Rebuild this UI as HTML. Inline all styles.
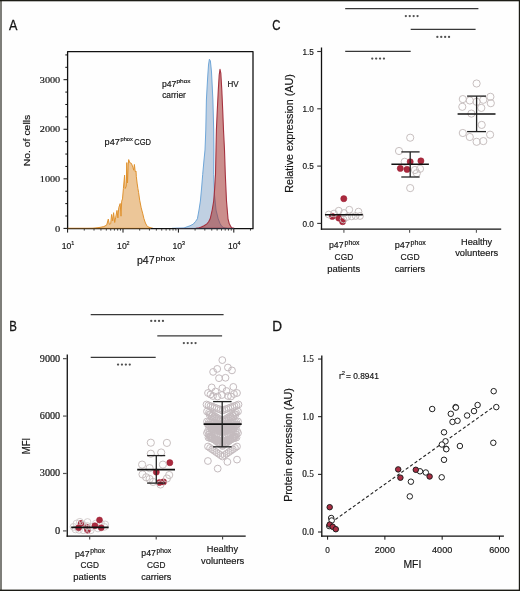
<!DOCTYPE html>
<html><head><meta charset="utf-8"><style>
html,body{margin:0;padding:0;background:#fff;}
svg{display:block;will-change:transform;}
</style></head><body>
<svg width="520" height="591" viewBox="0 0 520 591">
<rect x="0" y="0" width="520" height="591" fill="#fefefe"/>
<text x="9.00" y="29.70" font-size="14.5" font-family='"Liberation Sans", sans-serif' fill="#161616" stroke="#161616" stroke-width="0.3" textLength="8.4" lengthAdjust="spacingAndGlyphs" >A</text>
<line x1="63.50" y1="228.40" x2="67.60" y2="228.40" stroke="#111" stroke-width="1.0" />
<line x1="65.30" y1="216.01" x2="67.60" y2="216.01" stroke="#111" stroke-width="1.0" />
<line x1="65.30" y1="203.62" x2="67.60" y2="203.62" stroke="#111" stroke-width="1.0" />
<line x1="65.30" y1="191.22" x2="67.60" y2="191.22" stroke="#111" stroke-width="1.0" />
<line x1="63.50" y1="178.83" x2="67.60" y2="178.83" stroke="#111" stroke-width="1.0" />
<line x1="65.30" y1="166.44" x2="67.60" y2="166.44" stroke="#111" stroke-width="1.0" />
<line x1="65.30" y1="154.05" x2="67.60" y2="154.05" stroke="#111" stroke-width="1.0" />
<line x1="65.30" y1="141.65" x2="67.60" y2="141.65" stroke="#111" stroke-width="1.0" />
<line x1="63.50" y1="129.26" x2="67.60" y2="129.26" stroke="#111" stroke-width="1.0" />
<line x1="65.30" y1="116.87" x2="67.60" y2="116.87" stroke="#111" stroke-width="1.0" />
<line x1="65.30" y1="104.47" x2="67.60" y2="104.47" stroke="#111" stroke-width="1.0" />
<line x1="65.30" y1="92.08" x2="67.60" y2="92.08" stroke="#111" stroke-width="1.0" />
<line x1="63.50" y1="79.69" x2="67.60" y2="79.69" stroke="#111" stroke-width="1.0" />
<line x1="65.30" y1="67.30" x2="67.60" y2="67.30" stroke="#111" stroke-width="1.0" />
<line x1="65.30" y1="54.91" x2="67.60" y2="54.91" stroke="#111" stroke-width="1.0" />
<text x="60.20" y="231.60" font-size="9.2" font-family='"Liberation Serif", serif' fill="#161616" stroke="#161616" stroke-width="0.18" text-anchor="end" textLength="5.2" lengthAdjust="spacingAndGlyphs" >0</text>
<text x="60.20" y="182.03" font-size="9.2" font-family='"Liberation Serif", serif' fill="#161616" stroke="#161616" stroke-width="0.18" text-anchor="end" textLength="20.4" lengthAdjust="spacingAndGlyphs" >1000</text>
<text x="60.20" y="132.46" font-size="9.2" font-family='"Liberation Serif", serif' fill="#161616" stroke="#161616" stroke-width="0.18" text-anchor="end" textLength="20.4" lengthAdjust="spacingAndGlyphs" >2000</text>
<text x="60.20" y="82.89" font-size="9.2" font-family='"Liberation Serif", serif' fill="#161616" stroke="#161616" stroke-width="0.18" text-anchor="end" textLength="20.4" lengthAdjust="spacingAndGlyphs" >3000</text>
<line x1="67.60" y1="228.70" x2="67.60" y2="232.60" stroke="#111" stroke-width="1.0" />
<line x1="84.28" y1="228.70" x2="84.28" y2="230.60" stroke="#333" stroke-width="0.9" />
<line x1="94.03" y1="228.70" x2="94.03" y2="230.60" stroke="#333" stroke-width="0.9" />
<line x1="100.95" y1="228.70" x2="100.95" y2="230.60" stroke="#333" stroke-width="0.9" />
<line x1="106.32" y1="228.70" x2="106.32" y2="230.60" stroke="#333" stroke-width="0.9" />
<line x1="110.71" y1="228.70" x2="110.71" y2="230.60" stroke="#333" stroke-width="0.9" />
<line x1="114.42" y1="228.70" x2="114.42" y2="230.60" stroke="#333" stroke-width="0.9" />
<line x1="117.63" y1="228.70" x2="117.63" y2="230.60" stroke="#333" stroke-width="0.9" />
<line x1="120.47" y1="228.70" x2="120.47" y2="230.60" stroke="#333" stroke-width="0.9" />
<line x1="123.00" y1="228.70" x2="123.00" y2="232.60" stroke="#111" stroke-width="1.0" />
<line x1="139.68" y1="228.70" x2="139.68" y2="230.60" stroke="#333" stroke-width="0.9" />
<line x1="149.43" y1="228.70" x2="149.43" y2="230.60" stroke="#333" stroke-width="0.9" />
<line x1="156.35" y1="228.70" x2="156.35" y2="230.60" stroke="#333" stroke-width="0.9" />
<line x1="161.72" y1="228.70" x2="161.72" y2="230.60" stroke="#333" stroke-width="0.9" />
<line x1="166.11" y1="228.70" x2="166.11" y2="230.60" stroke="#333" stroke-width="0.9" />
<line x1="169.82" y1="228.70" x2="169.82" y2="230.60" stroke="#333" stroke-width="0.9" />
<line x1="173.03" y1="228.70" x2="173.03" y2="230.60" stroke="#333" stroke-width="0.9" />
<line x1="175.87" y1="228.70" x2="175.87" y2="230.60" stroke="#333" stroke-width="0.9" />
<line x1="178.40" y1="228.70" x2="178.40" y2="232.60" stroke="#111" stroke-width="1.0" />
<line x1="195.08" y1="228.70" x2="195.08" y2="230.60" stroke="#333" stroke-width="0.9" />
<line x1="204.83" y1="228.70" x2="204.83" y2="230.60" stroke="#333" stroke-width="0.9" />
<line x1="211.75" y1="228.70" x2="211.75" y2="230.60" stroke="#333" stroke-width="0.9" />
<line x1="217.12" y1="228.70" x2="217.12" y2="230.60" stroke="#333" stroke-width="0.9" />
<line x1="221.51" y1="228.70" x2="221.51" y2="230.60" stroke="#333" stroke-width="0.9" />
<line x1="225.22" y1="228.70" x2="225.22" y2="230.60" stroke="#333" stroke-width="0.9" />
<line x1="228.43" y1="228.70" x2="228.43" y2="230.60" stroke="#333" stroke-width="0.9" />
<line x1="231.27" y1="228.70" x2="231.27" y2="230.60" stroke="#333" stroke-width="0.9" />
<line x1="233.80" y1="228.70" x2="233.80" y2="232.60" stroke="#111" stroke-width="1.0" />
<line x1="250.48" y1="228.70" x2="250.48" y2="230.60" stroke="#333" stroke-width="0.9" />
<text x="61.70" y="248.70" font-size="9.2" font-family='"Liberation Sans", sans-serif' fill="#161616" stroke="#161616" stroke-width="0.18" textLength="9.6" lengthAdjust="spacingAndGlyphs" >10</text>
<text x="71.20" y="245.20" font-size="6.0" font-family='"Liberation Sans", sans-serif' fill="#161616" stroke="#161616" stroke-width="0.18" textLength="3.0" lengthAdjust="spacingAndGlyphs" >1</text>
<text x="117.10" y="248.70" font-size="9.2" font-family='"Liberation Sans", sans-serif' fill="#161616" stroke="#161616" stroke-width="0.18" textLength="9.6" lengthAdjust="spacingAndGlyphs" >10</text>
<text x="126.60" y="245.20" font-size="6.0" font-family='"Liberation Sans", sans-serif' fill="#161616" stroke="#161616" stroke-width="0.18" textLength="3.0" lengthAdjust="spacingAndGlyphs" >2</text>
<text x="172.50" y="248.70" font-size="9.2" font-family='"Liberation Sans", sans-serif' fill="#161616" stroke="#161616" stroke-width="0.18" textLength="9.6" lengthAdjust="spacingAndGlyphs" >10</text>
<text x="182.00" y="245.20" font-size="6.0" font-family='"Liberation Sans", sans-serif' fill="#161616" stroke="#161616" stroke-width="0.18" textLength="3.0" lengthAdjust="spacingAndGlyphs" >3</text>
<text x="227.90" y="248.70" font-size="9.2" font-family='"Liberation Sans", sans-serif' fill="#161616" stroke="#161616" stroke-width="0.18" textLength="9.6" lengthAdjust="spacingAndGlyphs" >10</text>
<text x="237.40" y="245.20" font-size="6.0" font-family='"Liberation Sans", sans-serif' fill="#161616" stroke="#161616" stroke-width="0.18" textLength="3.0" lengthAdjust="spacingAndGlyphs" >4</text>
<text x="30.20" y="140.50" font-size="9.6" font-family='"Liberation Sans", sans-serif' fill="#161616" stroke="#161616" stroke-width="0.18" text-anchor="middle" textLength="51.5" lengthAdjust="spacingAndGlyphs" transform="rotate(-90 30.20 140.50)" >No. of cells</text>
<text x="137.00" y="263.50" font-size="10.3" font-family='"Liberation Sans", sans-serif' fill="#161616" stroke="#161616" stroke-width="0.18" textLength="17.6" lengthAdjust="spacingAndGlyphs" >p47</text>
<text x="155.60" y="260.80" font-size="7.2" font-family='"Liberation Sans", sans-serif' fill="#161616" stroke="#161616" stroke-width="0.18" textLength="19.3" lengthAdjust="spacingAndGlyphs" >phox</text>
<path d="M67.60,228.40 L88.00,228.40 L93.00,228.30 L98.00,227.70 L101.00,227.20 L103.80,226.60 L106.70,225.10 L108.30,219.10 L109.30,224.30 L110.70,223.70 L111.60,214.50 L112.70,220.80 L113.60,212.70 L114.70,222.50 L115.60,217.90 L117.00,210.40 L117.90,217.90 L118.80,207.50 L120.20,203.50 L121.00,216.20 L121.70,201.20 L122.50,198.90 L123.40,188.50 L124.60,175.20 L125.20,188.50 L126.30,186.20 L126.80,162.60 L127.50,183.00 L128.20,165.00 L128.70,159.60 L129.70,162.60 L131.40,163.40 L132.90,167.20 L133.70,170.20 L134.40,164.50 L135.20,171.70 L136.00,171.00 L136.30,176.30 L137.10,183.10 L137.90,188.50 L138.60,192.60 L139.70,200.20 L141.20,207.80 L142.80,213.90 L143.90,218.50 L145.40,223.00 L147.30,226.50 L150.00,227.60 L153.00,228.40 Z" fill="#ecc698" stroke="#e0922e" stroke-width="1.0" stroke-linejoin="round" />
<path d="M172.00,228.40 L184.00,228.00 L187.10,226.80 L190.00,225.80 L193.30,224.10 L195.50,221.50 L197.40,218.80 L199.00,210.00 L200.40,201.00 L201.60,188.00 L202.70,174.40 L204.00,160.00 L205.00,150.00 L205.80,130.00 L206.40,100.00 L207.50,80.00 L208.50,65.00 L209.40,59.20 L210.40,61.00 L211.50,72.00 L212.90,100.00 L213.70,130.00 L213.90,150.00 L213.70,174.40 L214.50,195.00 L216.00,210.00 L218.20,218.80 L220.00,223.50 L221.70,226.30 L224.00,227.80 L227.00,228.40 Z" fill="#c0d0e2" stroke="#6fa6d8" stroke-width="1.0" stroke-linejoin="round" />
<path d="M196.00,228.40 L199.00,227.80 L201.30,227.00 L204.00,225.80 L206.60,224.10 L208.50,222.00 L210.20,218.80 L212.20,210.00 L213.70,201.00 L214.70,188.00 L215.50,174.40 L216.00,150.00 L216.40,130.00 L217.30,110.00 L218.30,90.00 L219.20,75.00 L220.00,69.40 L220.80,73.00 L221.80,90.00 L222.70,110.00 L223.50,130.00 L224.50,150.00 L225.30,174.40 L226.50,201.00 L228.00,218.80 L229.20,223.50 L230.60,226.30 L232.00,227.80 L234.00,228.40 Z" fill="rgba(160,50,45,0.55)" stroke="#a5323f" stroke-width="1.1" stroke-linejoin="round" />
<path d="M67.60,228.70 L67.60,51.60 L253.00,51.60 L253.00,228.70 Z" fill="none" stroke="#111" stroke-width="1.3" stroke-linejoin="round" />
<line x1="67.60" y1="228.35" x2="151.00" y2="228.35" stroke="rgba(215,140,45,0.5)" stroke-width="0.9" />
<line x1="176.00" y1="228.35" x2="234.00" y2="228.35" stroke="rgba(120,120,170,0.35)" stroke-width="0.9" />
<text x="104.60" y="144.50" font-size="8.6" font-family='"Liberation Sans", sans-serif' fill="#161616" stroke="#161616" stroke-width="0.18" textLength="15.2" lengthAdjust="spacingAndGlyphs" >p47</text>
<text x="120.50" y="140.60" font-size="6.2" font-family='"Liberation Sans", sans-serif' fill="#161616" stroke="#161616" stroke-width="0.18" textLength="12.3" lengthAdjust="spacingAndGlyphs" >phox</text>
<text x="134.20" y="144.50" font-size="8.6" font-family='"Liberation Sans", sans-serif' fill="#161616" stroke="#161616" stroke-width="0.18" textLength="16.8" lengthAdjust="spacingAndGlyphs" >CGD</text>
<text x="162.00" y="86.90" font-size="8.6" font-family='"Liberation Sans", sans-serif' fill="#161616" stroke="#161616" stroke-width="0.18" textLength="14.4" lengthAdjust="spacingAndGlyphs" >p47</text>
<text x="176.50" y="83.00" font-size="6.2" font-family='"Liberation Sans", sans-serif' fill="#161616" stroke="#161616" stroke-width="0.18" textLength="14.0" lengthAdjust="spacingAndGlyphs" >phox</text>
<text x="162.20" y="97.50" font-size="8.6" font-family='"Liberation Sans", sans-serif' fill="#161616" stroke="#161616" stroke-width="0.18" textLength="23.6" lengthAdjust="spacingAndGlyphs" >carrier</text>
<text x="227.50" y="86.80" font-size="8.6" font-family='"Liberation Sans", sans-serif' fill="#161616" stroke="#161616" stroke-width="0.18" textLength="11.2" lengthAdjust="spacingAndGlyphs" >HV</text>
<text x="9.20" y="331.10" font-size="14.3" font-family='"Liberation Sans", sans-serif' fill="#161616" stroke="#161616" stroke-width="0.3" textLength="7.6" lengthAdjust="spacingAndGlyphs" >B</text>
<line x1="67.30" y1="354.40" x2="67.30" y2="536.85" stroke="#222" stroke-width="1.4" />
<line x1="66.60" y1="536.20" x2="245.70" y2="536.20" stroke="#111" stroke-width="1.3" />
<line x1="63.00" y1="530.90" x2="66.80" y2="530.90" stroke="#555" stroke-width="1.2" />
<text x="60.20" y="533.90" font-size="9.4" font-family='"Liberation Serif", serif' fill="#161616" stroke="#161616" stroke-width="0.18" text-anchor="end" textLength="5.2" lengthAdjust="spacingAndGlyphs" >0</text>
<line x1="63.00" y1="473.48" x2="66.80" y2="473.48" stroke="#555" stroke-width="1.2" />
<text x="60.20" y="476.48" font-size="9.4" font-family='"Liberation Serif", serif' fill="#161616" stroke="#161616" stroke-width="0.18" text-anchor="end" textLength="20.4" lengthAdjust="spacingAndGlyphs" >3000</text>
<line x1="63.00" y1="416.07" x2="66.80" y2="416.07" stroke="#555" stroke-width="1.2" />
<text x="60.20" y="419.07" font-size="9.4" font-family='"Liberation Serif", serif' fill="#161616" stroke="#161616" stroke-width="0.18" text-anchor="end" textLength="20.4" lengthAdjust="spacingAndGlyphs" >6000</text>
<line x1="63.00" y1="358.65" x2="66.80" y2="358.65" stroke="#555" stroke-width="1.2" />
<text x="60.20" y="361.65" font-size="9.4" font-family='"Liberation Serif", serif' fill="#161616" stroke="#161616" stroke-width="0.18" text-anchor="end" textLength="20.4" lengthAdjust="spacingAndGlyphs" >9000</text>
<text x="29.80" y="446.00" font-size="10.8" font-family='"Liberation Sans", sans-serif' fill="#161616" stroke="#161616" stroke-width="0.18" text-anchor="middle" textLength="16.6" lengthAdjust="spacingAndGlyphs" transform="rotate(-90 29.80 446.00)" >MFI</text>
<line x1="89.70" y1="536.20" x2="89.70" y2="539.60" stroke="#444" stroke-width="1.1" />
<line x1="156.20" y1="536.20" x2="156.20" y2="539.60" stroke="#444" stroke-width="1.1" />
<line x1="222.60" y1="536.20" x2="222.60" y2="539.60" stroke="#444" stroke-width="1.1" />
<text x="75.00" y="556.50" font-size="9.2" font-family='"Liberation Sans", sans-serif' fill="#161616" stroke="#161616" stroke-width="0.18" textLength="14.6" lengthAdjust="spacingAndGlyphs" >p47</text>
<text x="90.20" y="552.90" font-size="6.4" font-family='"Liberation Sans", sans-serif' fill="#161616" stroke="#161616" stroke-width="0.18" textLength="14.599999999999994" lengthAdjust="spacingAndGlyphs" >phox</text>
<text x="80.50" y="568.20" font-size="9.2" font-family='"Liberation Sans", sans-serif' fill="#161616" stroke="#161616" stroke-width="0.18" textLength="18.4" lengthAdjust="spacingAndGlyphs" >CGD</text>
<text x="73.30" y="579.80" font-size="9.2" font-family='"Liberation Sans", sans-serif' fill="#161616" stroke="#161616" stroke-width="0.18" textLength="32.8" lengthAdjust="spacingAndGlyphs" >patients</text>
<text x="141.30" y="556.30" font-size="9.2" font-family='"Liberation Sans", sans-serif' fill="#161616" stroke="#161616" stroke-width="0.18" textLength="14.6" lengthAdjust="spacingAndGlyphs" >p47</text>
<text x="156.60" y="552.70" font-size="6.4" font-family='"Liberation Sans", sans-serif' fill="#161616" stroke="#161616" stroke-width="0.18" textLength="14.599999999999994" lengthAdjust="spacingAndGlyphs" >phox</text>
<text x="147.00" y="568.00" font-size="9.2" font-family='"Liberation Sans", sans-serif' fill="#161616" stroke="#161616" stroke-width="0.18" textLength="18.4" lengthAdjust="spacingAndGlyphs" >CGD</text>
<text x="141.20" y="579.60" font-size="9.2" font-family='"Liberation Sans", sans-serif' fill="#161616" stroke="#161616" stroke-width="0.18" textLength="30.0" lengthAdjust="spacingAndGlyphs" >carriers</text>
<text x="206.80" y="552.20" font-size="9.2" font-family='"Liberation Sans", sans-serif' fill="#161616" stroke="#161616" stroke-width="0.18" textLength="31.3" lengthAdjust="spacingAndGlyphs" >Healthy</text>
<text x="201.00" y="563.80" font-size="9.2" font-family='"Liberation Sans", sans-serif' fill="#161616" stroke="#161616" stroke-width="0.18" textLength="43.2" lengthAdjust="spacingAndGlyphs" >volunteers</text>
<line x1="90.70" y1="314.50" x2="223.60" y2="314.50" stroke="#383838" stroke-width="1.25" />
<circle cx="151.25" cy="320.90" r="1.15" fill="#505050" stroke="none" stroke-width="1.0" />
<circle cx="155.15" cy="320.90" r="1.15" fill="#505050" stroke="none" stroke-width="1.0" />
<circle cx="159.05" cy="320.90" r="1.15" fill="#505050" stroke="none" stroke-width="1.0" />
<circle cx="162.95" cy="320.90" r="1.15" fill="#505050" stroke="none" stroke-width="1.0" />
<line x1="157.30" y1="335.80" x2="222.10" y2="335.80" stroke="#383838" stroke-width="1.25" />
<circle cx="183.85" cy="343.10" r="1.15" fill="#505050" stroke="none" stroke-width="1.0" />
<circle cx="187.75" cy="343.10" r="1.15" fill="#505050" stroke="none" stroke-width="1.0" />
<circle cx="191.65" cy="343.10" r="1.15" fill="#505050" stroke="none" stroke-width="1.0" />
<circle cx="195.55" cy="343.10" r="1.15" fill="#505050" stroke="none" stroke-width="1.0" />
<line x1="90.70" y1="357.30" x2="155.70" y2="357.30" stroke="#383838" stroke-width="1.25" />
<circle cx="118.05" cy="364.60" r="1.15" fill="#505050" stroke="none" stroke-width="1.0" />
<circle cx="121.95" cy="364.60" r="1.15" fill="#505050" stroke="none" stroke-width="1.0" />
<circle cx="125.85" cy="364.60" r="1.15" fill="#505050" stroke="none" stroke-width="1.0" />
<circle cx="129.75" cy="364.60" r="1.15" fill="#505050" stroke="none" stroke-width="1.0" />
<text x="272.20" y="30.10" font-size="13.8" font-family='"Liberation Sans", sans-serif' fill="#161616" stroke="#161616" stroke-width="0.3" textLength="8.2" lengthAdjust="spacingAndGlyphs" >C</text>
<line x1="321.50" y1="47.50" x2="321.50" y2="229.80" stroke="#111" stroke-width="1.3" />
<line x1="320.85" y1="229.20" x2="501.20" y2="229.20" stroke="#111" stroke-width="1.3" />
<line x1="317.20" y1="223.40" x2="321.30" y2="223.40" stroke="#333" stroke-width="1.1" />
<text x="313.90" y="226.60" font-size="9.0" font-family='"Liberation Sans", sans-serif' fill="#161616" stroke="#161616" stroke-width="0.18" text-anchor="end" textLength="11.4" lengthAdjust="spacingAndGlyphs" >0.0</text>
<line x1="317.20" y1="166.10" x2="321.30" y2="166.10" stroke="#333" stroke-width="1.1" />
<text x="313.90" y="169.30" font-size="9.0" font-family='"Liberation Sans", sans-serif' fill="#161616" stroke="#161616" stroke-width="0.18" text-anchor="end" textLength="11.4" lengthAdjust="spacingAndGlyphs" >0.5</text>
<line x1="317.20" y1="108.80" x2="321.30" y2="108.80" stroke="#333" stroke-width="1.1" />
<text x="313.90" y="112.00" font-size="9.0" font-family='"Liberation Sans", sans-serif' fill="#161616" stroke="#161616" stroke-width="0.18" text-anchor="end" textLength="11.4" lengthAdjust="spacingAndGlyphs" >1.0</text>
<line x1="317.20" y1="51.50" x2="321.30" y2="51.50" stroke="#333" stroke-width="1.1" />
<text x="313.90" y="54.70" font-size="9.0" font-family='"Liberation Sans", sans-serif' fill="#161616" stroke="#161616" stroke-width="0.18" text-anchor="end" textLength="11.4" lengthAdjust="spacingAndGlyphs" >1.5</text>
<text x="292.60" y="133.50" font-size="10.2" font-family='"Liberation Sans", sans-serif' fill="#161616" stroke="#161616" stroke-width="0.18" text-anchor="middle" textLength="118.5" lengthAdjust="spacingAndGlyphs" transform="rotate(-90 292.60 133.50)" >Relative expression (AU)</text>
<line x1="343.90" y1="229.20" x2="343.90" y2="232.80" stroke="#555" stroke-width="1.1" />
<line x1="409.60" y1="229.20" x2="409.60" y2="232.80" stroke="#555" stroke-width="1.1" />
<line x1="476.40" y1="229.20" x2="476.40" y2="232.80" stroke="#555" stroke-width="1.1" />
<text x="329.00" y="248.40" font-size="9.2" font-family='"Liberation Sans", sans-serif' fill="#161616" stroke="#161616" stroke-width="0.18" textLength="14.6" lengthAdjust="spacingAndGlyphs" >p47</text>
<text x="344.60" y="244.80" font-size="6.4" font-family='"Liberation Sans", sans-serif' fill="#161616" stroke="#161616" stroke-width="0.18" textLength="14.899999999999977" lengthAdjust="spacingAndGlyphs" >phox</text>
<text x="334.60" y="260.10" font-size="9.2" font-family='"Liberation Sans", sans-serif' fill="#161616" stroke="#161616" stroke-width="0.18" textLength="18.6" lengthAdjust="spacingAndGlyphs" >CGD</text>
<text x="327.20" y="271.70" font-size="9.2" font-family='"Liberation Sans", sans-serif' fill="#161616" stroke="#161616" stroke-width="0.18" textLength="33.0" lengthAdjust="spacingAndGlyphs" >patients</text>
<text x="394.80" y="248.40" font-size="9.2" font-family='"Liberation Sans", sans-serif' fill="#161616" stroke="#161616" stroke-width="0.18" textLength="15.2" lengthAdjust="spacingAndGlyphs" >p47</text>
<text x="410.60" y="244.80" font-size="6.4" font-family='"Liberation Sans", sans-serif' fill="#161616" stroke="#161616" stroke-width="0.18" textLength="15.199999999999989" lengthAdjust="spacingAndGlyphs" >phox</text>
<text x="400.60" y="260.10" font-size="9.2" font-family='"Liberation Sans", sans-serif' fill="#161616" stroke="#161616" stroke-width="0.18" textLength="19.0" lengthAdjust="spacingAndGlyphs" >CGD</text>
<text x="394.70" y="271.70" font-size="9.2" font-family='"Liberation Sans", sans-serif' fill="#161616" stroke="#161616" stroke-width="0.18" textLength="30.4" lengthAdjust="spacingAndGlyphs" >carriers</text>
<text x="461.00" y="244.80" font-size="9.2" font-family='"Liberation Sans", sans-serif' fill="#161616" stroke="#161616" stroke-width="0.18" textLength="31.2" lengthAdjust="spacingAndGlyphs" >Healthy</text>
<text x="455.20" y="256.20" font-size="9.2" font-family='"Liberation Sans", sans-serif' fill="#161616" stroke="#161616" stroke-width="0.18" textLength="43.0" lengthAdjust="spacingAndGlyphs" >volunteers</text>
<line x1="345.20" y1="8.65" x2="478.40" y2="8.65" stroke="#383838" stroke-width="1.25" />
<circle cx="405.85" cy="16.10" r="1.15" fill="#505050" stroke="none" stroke-width="1.0" />
<circle cx="409.75" cy="16.10" r="1.15" fill="#505050" stroke="none" stroke-width="1.0" />
<circle cx="413.65" cy="16.10" r="1.15" fill="#505050" stroke="none" stroke-width="1.0" />
<circle cx="417.55" cy="16.10" r="1.15" fill="#505050" stroke="none" stroke-width="1.0" />
<line x1="410.70" y1="29.40" x2="475.60" y2="29.40" stroke="#383838" stroke-width="1.25" />
<circle cx="437.35" cy="36.90" r="1.15" fill="#505050" stroke="none" stroke-width="1.0" />
<circle cx="441.25" cy="36.90" r="1.15" fill="#505050" stroke="none" stroke-width="1.0" />
<circle cx="445.15" cy="36.90" r="1.15" fill="#505050" stroke="none" stroke-width="1.0" />
<circle cx="449.05" cy="36.90" r="1.15" fill="#505050" stroke="none" stroke-width="1.0" />
<line x1="345.20" y1="51.30" x2="410.70" y2="51.30" stroke="#383838" stroke-width="1.25" />
<circle cx="372.25" cy="58.60" r="1.15" fill="#505050" stroke="none" stroke-width="1.0" />
<circle cx="376.15" cy="58.60" r="1.15" fill="#505050" stroke="none" stroke-width="1.0" />
<circle cx="380.05" cy="58.60" r="1.15" fill="#505050" stroke="none" stroke-width="1.0" />
<circle cx="383.95" cy="58.60" r="1.15" fill="#505050" stroke="none" stroke-width="1.0" />
<text x="272.20" y="330.60" font-size="13.8" font-family='"Liberation Sans", sans-serif' fill="#161616" stroke="#161616" stroke-width="0.3" textLength="9.8" lengthAdjust="spacingAndGlyphs" >D</text>
<line x1="321.80" y1="355.50" x2="321.80" y2="536.70" stroke="#111" stroke-width="1.3" />
<line x1="321.15" y1="536.10" x2="503.90" y2="536.10" stroke="#111" stroke-width="1.3" />
<line x1="318.00" y1="532.00" x2="321.80" y2="532.00" stroke="#111" stroke-width="1.0" />
<text x="313.80" y="535.00" font-size="9.4" font-family='"Liberation Serif", serif' fill="#161616" stroke="#161616" stroke-width="0.18" text-anchor="end" textLength="11.6" lengthAdjust="spacingAndGlyphs" >0.0</text>
<line x1="318.00" y1="474.35" x2="321.80" y2="474.35" stroke="#111" stroke-width="1.0" />
<text x="313.80" y="477.35" font-size="9.4" font-family='"Liberation Serif", serif' fill="#161616" stroke="#161616" stroke-width="0.18" text-anchor="end" textLength="11.6" lengthAdjust="spacingAndGlyphs" >0.5</text>
<line x1="318.00" y1="416.70" x2="321.80" y2="416.70" stroke="#111" stroke-width="1.0" />
<text x="313.80" y="419.70" font-size="9.4" font-family='"Liberation Serif", serif' fill="#161616" stroke="#161616" stroke-width="0.18" text-anchor="end" textLength="11.6" lengthAdjust="spacingAndGlyphs" >1.0</text>
<line x1="318.00" y1="359.05" x2="321.80" y2="359.05" stroke="#111" stroke-width="1.0" />
<text x="313.80" y="362.05" font-size="9.4" font-family='"Liberation Serif", serif' fill="#161616" stroke="#161616" stroke-width="0.18" text-anchor="end" textLength="11.6" lengthAdjust="spacingAndGlyphs" >1.5</text>
<line x1="327.60" y1="536.10" x2="327.60" y2="539.70" stroke="#111" stroke-width="1.0" />
<text x="327.60" y="552.50" font-size="9.2" font-family='"Liberation Sans", sans-serif' fill="#161616" stroke="#161616" stroke-width="0.18" text-anchor="middle" textLength="4.6" lengthAdjust="spacingAndGlyphs" >0</text>
<line x1="384.88" y1="536.10" x2="384.88" y2="539.70" stroke="#111" stroke-width="1.0" />
<text x="384.88" y="552.50" font-size="9.2" font-family='"Liberation Sans", sans-serif' fill="#161616" stroke="#161616" stroke-width="0.18" text-anchor="middle" textLength="20.2" lengthAdjust="spacingAndGlyphs" >2000</text>
<line x1="442.16" y1="536.10" x2="442.16" y2="539.70" stroke="#111" stroke-width="1.0" />
<text x="442.16" y="552.50" font-size="9.2" font-family='"Liberation Sans", sans-serif' fill="#161616" stroke="#161616" stroke-width="0.18" text-anchor="middle" textLength="20.2" lengthAdjust="spacingAndGlyphs" >4000</text>
<line x1="499.44" y1="536.10" x2="499.44" y2="539.70" stroke="#111" stroke-width="1.0" />
<text x="499.44" y="552.50" font-size="9.2" font-family='"Liberation Sans", sans-serif' fill="#161616" stroke="#161616" stroke-width="0.18" text-anchor="middle" textLength="20.2" lengthAdjust="spacingAndGlyphs" >6000</text>
<text x="403.40" y="568.10" font-size="10.8" font-family='"Liberation Sans", sans-serif' fill="#161616" stroke="#161616" stroke-width="0.18" textLength="17.9" lengthAdjust="spacingAndGlyphs" >MFI</text>
<text x="292.20" y="445.00" font-size="10.2" font-family='"Liberation Sans", sans-serif' fill="#161616" stroke="#161616" stroke-width="0.18" text-anchor="middle" textLength="113.7" lengthAdjust="spacingAndGlyphs" transform="rotate(-90 292.20 445.00)" >Protein expression (AU)</text>
<text x="338.90" y="378.60" font-size="8.6" font-family='"Liberation Sans", sans-serif' fill="#161616" stroke="#161616" stroke-width="0.18" >r</text>
<text x="341.80" y="374.60" font-size="5.8" font-family='"Liberation Sans", sans-serif' fill="#161616" stroke="#161616" stroke-width="0.18" >2</text>
<text x="346.00" y="378.60" font-size="8.9" font-family='"Liberation Sans", sans-serif' fill="#161616" stroke="#161616" stroke-width="0.18" textLength="32.8" lengthAdjust="spacingAndGlyphs" >= 0.8941</text>
<circle cx="87.50" cy="530.30" r="3.0" fill="#aa2a3e" stroke="#9a1c30" stroke-width="0.5" />
<circle cx="81.10" cy="523.30" r="3.0" fill="#aa2a3e" stroke="#9a1c30" stroke-width="0.5" />
<circle cx="86.60" cy="527.00" r="3.0" fill="#aa2a3e" stroke="#9a1c30" stroke-width="0.5" />
<circle cx="79.80" cy="521.80" r="3.4" fill="none" stroke="#cfc8c8" stroke-width="0.9" />
<circle cx="76.50" cy="523.50" r="3.4" fill="none" stroke="#cfc8c8" stroke-width="0.9" />
<circle cx="73.50" cy="526.90" r="3.4" fill="none" stroke="#cfc8c8" stroke-width="0.9" />
<circle cx="83.20" cy="524.80" r="3.4" fill="none" stroke="#cfc8c8" stroke-width="0.9" />
<circle cx="87.50" cy="526.10" r="3.4" fill="none" stroke="#cfc8c8" stroke-width="0.9" />
<circle cx="91.70" cy="526.90" r="3.4" fill="none" stroke="#cfc8c8" stroke-width="0.9" />
<circle cx="95.90" cy="523.50" r="3.4" fill="none" stroke="#cfc8c8" stroke-width="0.9" />
<circle cx="104.40" cy="526.90" r="3.4" fill="none" stroke="#cfc8c8" stroke-width="0.9" />
<circle cx="105.20" cy="524.40" r="3.4" fill="none" stroke="#cfc8c8" stroke-width="0.9" />
<circle cx="79.00" cy="529.90" r="3.4" fill="none" stroke="#cfc8c8" stroke-width="0.9" />
<circle cx="90.80" cy="530.30" r="3.4" fill="none" stroke="#cfc8c8" stroke-width="0.9" />
<circle cx="83.20" cy="530.30" r="3.4" fill="none" stroke="#cfc8c8" stroke-width="0.9" />
<circle cx="98.00" cy="528.50" r="3.4" fill="none" stroke="#cfc8c8" stroke-width="0.9" />
<circle cx="75.50" cy="529.50" r="3.4" fill="none" stroke="#cfc8c8" stroke-width="0.9" />
<circle cx="87.50" cy="522.00" r="3.4" fill="none" stroke="#cfc8c8" stroke-width="0.9" />
<circle cx="101.00" cy="523.50" r="3.4" fill="none" stroke="#cfc8c8" stroke-width="0.9" />
<circle cx="78.60" cy="527.80" r="3.0" fill="#aa2a3e" stroke="#9a1c30" stroke-width="0.5" />
<circle cx="94.90" cy="525.70" r="3.0" fill="#aa2a3e" stroke="#9a1c30" stroke-width="0.5" />
<circle cx="99.50" cy="520.00" r="3.0" fill="#aa2a3e" stroke="#9a1c30" stroke-width="0.5" />
<circle cx="101.20" cy="527.80" r="3.0" fill="#aa2a3e" stroke="#9a1c30" stroke-width="0.5" />
<line x1="71.20" y1="527.40" x2="108.70" y2="527.40" stroke="#111" stroke-width="1.6" />
<circle cx="169.80" cy="462.70" r="3.1" fill="#aa2a3e" stroke="#9a1c30" stroke-width="0.5" />
<circle cx="156.30" cy="472.10" r="3.1" fill="#aa2a3e" stroke="#9a1c30" stroke-width="0.5" />
<circle cx="159.40" cy="482.50" r="3.1" fill="#aa2a3e" stroke="#9a1c30" stroke-width="0.5" />
<circle cx="163.50" cy="481.90" r="3.1" fill="#aa2a3e" stroke="#9a1c30" stroke-width="0.5" />
<circle cx="150.80" cy="442.70" r="3.6" fill="none" stroke="#c4bcbc" stroke-width="0.95" />
<circle cx="166.90" cy="442.90" r="3.6" fill="none" stroke="#c4bcbc" stroke-width="0.95" />
<circle cx="150.80" cy="453.70" r="3.6" fill="none" stroke="#c4bcbc" stroke-width="0.95" />
<circle cx="161.20" cy="452.50" r="3.6" fill="none" stroke="#c4bcbc" stroke-width="0.95" />
<circle cx="142.10" cy="464.60" r="3.6" fill="none" stroke="#c4bcbc" stroke-width="0.95" />
<circle cx="149.60" cy="468.10" r="3.6" fill="none" stroke="#c4bcbc" stroke-width="0.95" />
<circle cx="162.90" cy="464.60" r="3.6" fill="none" stroke="#c4bcbc" stroke-width="0.95" />
<circle cx="142.50" cy="474.40" r="3.6" fill="none" stroke="#c4bcbc" stroke-width="0.95" />
<circle cx="146.20" cy="477.30" r="3.6" fill="none" stroke="#c4bcbc" stroke-width="0.95" />
<circle cx="149.60" cy="479.00" r="3.6" fill="none" stroke="#c4bcbc" stroke-width="0.95" />
<circle cx="153.10" cy="481.90" r="3.6" fill="none" stroke="#c4bcbc" stroke-width="0.95" />
<circle cx="169.20" cy="475.00" r="3.6" fill="none" stroke="#c4bcbc" stroke-width="0.95" />
<circle cx="166.90" cy="478.50" r="3.6" fill="none" stroke="#c4bcbc" stroke-width="0.95" />
<circle cx="160.50" cy="484.50" r="3.6" fill="none" stroke="#c4bcbc" stroke-width="0.95" />
<line x1="137.20" y1="469.60" x2="175.00" y2="469.60" stroke="#111" stroke-width="1.6" />
<line x1="156.30" y1="455.60" x2="156.30" y2="483.10" stroke="#222" stroke-width="1.3" />
<line x1="147.10" y1="455.60" x2="165.20" y2="455.60" stroke="#222" stroke-width="1.3" />
<line x1="147.10" y1="483.10" x2="165.20" y2="483.10" stroke="#222" stroke-width="1.3" />
<circle cx="222.30" cy="360.10" r="3.4" fill="none" stroke="#c4bbbe" stroke-width="1.0" />
<circle cx="213.10" cy="371.90" r="3.4" fill="none" stroke="#c4bbbe" stroke-width="1.0" />
<circle cx="217.20" cy="368.90" r="3.4" fill="none" stroke="#c4bbbe" stroke-width="1.0" />
<circle cx="227.90" cy="367.50" r="3.4" fill="none" stroke="#c4bbbe" stroke-width="1.0" />
<circle cx="232.00" cy="370.40" r="3.4" fill="none" stroke="#c4bbbe" stroke-width="1.0" />
<circle cx="219.00" cy="378.20" r="3.4" fill="none" stroke="#c4bbbe" stroke-width="1.0" />
<circle cx="225.50" cy="377.80" r="3.4" fill="none" stroke="#c4bbbe" stroke-width="1.0" />
<circle cx="207.90" cy="461.00" r="3.4" fill="none" stroke="#c4bbbe" stroke-width="1.0" />
<circle cx="217.70" cy="468.60" r="3.4" fill="none" stroke="#c4bbbe" stroke-width="1.0" />
<circle cx="227.40" cy="461.90" r="3.4" fill="none" stroke="#c4bbbe" stroke-width="1.0" />
<circle cx="237.00" cy="459.60" r="3.4" fill="none" stroke="#c4bbbe" stroke-width="1.0" />
<circle cx="211.70" cy="387.40" r="3.4" fill="none" stroke="#c4bbbe" stroke-width="1.0" />
<circle cx="222.30" cy="388.20" r="3.4" fill="none" stroke="#c4bbbe" stroke-width="1.0" />
<circle cx="233.30" cy="386.90" r="3.4" fill="none" stroke="#c4bbbe" stroke-width="1.0" />
<circle cx="208.00" cy="393.00" r="3.4" fill="none" stroke="#c4bbbe" stroke-width="1.0" />
<circle cx="210.50" cy="394.50" r="3.4" fill="none" stroke="#c4bbbe" stroke-width="1.0" />
<circle cx="213.00" cy="396.00" r="3.4" fill="none" stroke="#c4bbbe" stroke-width="1.0" />
<circle cx="215.50" cy="391.50" r="3.4" fill="none" stroke="#c4bbbe" stroke-width="1.0" />
<circle cx="217.50" cy="396.50" r="3.4" fill="none" stroke="#c4bbbe" stroke-width="1.0" />
<circle cx="222.00" cy="395.00" r="3.4" fill="none" stroke="#c4bbbe" stroke-width="1.0" />
<circle cx="226.50" cy="391.00" r="3.4" fill="none" stroke="#c4bbbe" stroke-width="1.0" />
<circle cx="228.00" cy="396.00" r="3.4" fill="none" stroke="#c4bbbe" stroke-width="1.0" />
<circle cx="231.00" cy="396.50" r="3.4" fill="none" stroke="#c4bbbe" stroke-width="1.0" />
<circle cx="234.00" cy="394.00" r="3.4" fill="none" stroke="#c4bbbe" stroke-width="1.0" />
<circle cx="237.00" cy="393.00" r="3.4" fill="none" stroke="#c4bbbe" stroke-width="1.0" />
<circle cx="206.50" cy="404.50" r="3.4" fill="none" stroke="#c4bbbe" stroke-width="1.0" />
<circle cx="208.50" cy="405.25" r="3.4" fill="none" stroke="#c4bbbe" stroke-width="1.0" />
<circle cx="210.50" cy="406.00" r="3.4" fill="none" stroke="#c4bbbe" stroke-width="1.0" />
<circle cx="212.50" cy="406.75" r="3.4" fill="none" stroke="#c4bbbe" stroke-width="1.0" />
<circle cx="214.50" cy="407.50" r="3.4" fill="none" stroke="#c4bbbe" stroke-width="1.0" />
<circle cx="216.50" cy="408.25" r="3.4" fill="none" stroke="#c4bbbe" stroke-width="1.0" />
<circle cx="218.50" cy="409.00" r="3.4" fill="none" stroke="#c4bbbe" stroke-width="1.0" />
<circle cx="220.50" cy="409.75" r="3.4" fill="none" stroke="#c4bbbe" stroke-width="1.0" />
<circle cx="222.50" cy="410.50" r="3.4" fill="none" stroke="#c4bbbe" stroke-width="1.0" />
<circle cx="224.50" cy="409.75" r="3.4" fill="none" stroke="#c4bbbe" stroke-width="1.0" />
<circle cx="226.50" cy="409.00" r="3.4" fill="none" stroke="#c4bbbe" stroke-width="1.0" />
<circle cx="228.50" cy="408.25" r="3.4" fill="none" stroke="#c4bbbe" stroke-width="1.0" />
<circle cx="230.50" cy="407.50" r="3.4" fill="none" stroke="#c4bbbe" stroke-width="1.0" />
<circle cx="232.50" cy="406.75" r="3.4" fill="none" stroke="#c4bbbe" stroke-width="1.0" />
<circle cx="234.50" cy="406.00" r="3.4" fill="none" stroke="#c4bbbe" stroke-width="1.0" />
<circle cx="236.50" cy="405.25" r="3.4" fill="none" stroke="#c4bbbe" stroke-width="1.0" />
<circle cx="238.50" cy="404.50" r="3.4" fill="none" stroke="#c4bbbe" stroke-width="1.0" />
<circle cx="207.00" cy="411.50" r="3.4" fill="none" stroke="#c4bbbe" stroke-width="1.0" />
<circle cx="208.94" cy="412.69" r="3.4" fill="none" stroke="#c4bbbe" stroke-width="1.0" />
<circle cx="210.88" cy="413.88" r="3.4" fill="none" stroke="#c4bbbe" stroke-width="1.0" />
<circle cx="212.81" cy="415.06" r="3.4" fill="none" stroke="#c4bbbe" stroke-width="1.0" />
<circle cx="214.75" cy="416.25" r="3.4" fill="none" stroke="#c4bbbe" stroke-width="1.0" />
<circle cx="216.69" cy="417.44" r="3.4" fill="none" stroke="#c4bbbe" stroke-width="1.0" />
<circle cx="218.62" cy="418.62" r="3.4" fill="none" stroke="#c4bbbe" stroke-width="1.0" />
<circle cx="220.56" cy="419.81" r="3.4" fill="none" stroke="#c4bbbe" stroke-width="1.0" />
<circle cx="222.50" cy="421.00" r="3.4" fill="none" stroke="#c4bbbe" stroke-width="1.0" />
<circle cx="224.44" cy="419.81" r="3.4" fill="none" stroke="#c4bbbe" stroke-width="1.0" />
<circle cx="226.38" cy="418.62" r="3.4" fill="none" stroke="#c4bbbe" stroke-width="1.0" />
<circle cx="228.31" cy="417.44" r="3.4" fill="none" stroke="#c4bbbe" stroke-width="1.0" />
<circle cx="230.25" cy="416.25" r="3.4" fill="none" stroke="#c4bbbe" stroke-width="1.0" />
<circle cx="232.19" cy="415.06" r="3.4" fill="none" stroke="#c4bbbe" stroke-width="1.0" />
<circle cx="234.12" cy="413.88" r="3.4" fill="none" stroke="#c4bbbe" stroke-width="1.0" />
<circle cx="236.06" cy="412.69" r="3.4" fill="none" stroke="#c4bbbe" stroke-width="1.0" />
<circle cx="238.00" cy="411.50" r="3.4" fill="none" stroke="#c4bbbe" stroke-width="1.0" />
<circle cx="209.50" cy="414.50" r="3.4" fill="none" stroke="#c4bbbe" stroke-width="1.0" />
<circle cx="211.67" cy="415.92" r="3.4" fill="none" stroke="#c4bbbe" stroke-width="1.0" />
<circle cx="213.83" cy="417.33" r="3.4" fill="none" stroke="#c4bbbe" stroke-width="1.0" />
<circle cx="216.00" cy="418.75" r="3.4" fill="none" stroke="#c4bbbe" stroke-width="1.0" />
<circle cx="218.17" cy="420.17" r="3.4" fill="none" stroke="#c4bbbe" stroke-width="1.0" />
<circle cx="220.33" cy="421.58" r="3.4" fill="none" stroke="#c4bbbe" stroke-width="1.0" />
<circle cx="222.50" cy="423.00" r="3.4" fill="none" stroke="#c4bbbe" stroke-width="1.0" />
<circle cx="224.67" cy="421.58" r="3.4" fill="none" stroke="#c4bbbe" stroke-width="1.0" />
<circle cx="226.83" cy="420.17" r="3.4" fill="none" stroke="#c4bbbe" stroke-width="1.0" />
<circle cx="229.00" cy="418.75" r="3.4" fill="none" stroke="#c4bbbe" stroke-width="1.0" />
<circle cx="231.17" cy="417.33" r="3.4" fill="none" stroke="#c4bbbe" stroke-width="1.0" />
<circle cx="233.33" cy="415.92" r="3.4" fill="none" stroke="#c4bbbe" stroke-width="1.0" />
<circle cx="235.50" cy="414.50" r="3.4" fill="none" stroke="#c4bbbe" stroke-width="1.0" />
<circle cx="207.00" cy="421.50" r="3.4" fill="none" stroke="#c4bbbe" stroke-width="1.0" />
<circle cx="208.72" cy="422.00" r="3.4" fill="none" stroke="#c4bbbe" stroke-width="1.0" />
<circle cx="210.44" cy="422.50" r="3.4" fill="none" stroke="#c4bbbe" stroke-width="1.0" />
<circle cx="212.17" cy="423.00" r="3.4" fill="none" stroke="#c4bbbe" stroke-width="1.0" />
<circle cx="213.89" cy="423.50" r="3.4" fill="none" stroke="#c4bbbe" stroke-width="1.0" />
<circle cx="215.61" cy="424.00" r="3.4" fill="none" stroke="#c4bbbe" stroke-width="1.0" />
<circle cx="217.33" cy="424.50" r="3.4" fill="none" stroke="#c4bbbe" stroke-width="1.0" />
<circle cx="219.06" cy="425.00" r="3.4" fill="none" stroke="#c4bbbe" stroke-width="1.0" />
<circle cx="220.78" cy="425.50" r="3.4" fill="none" stroke="#c4bbbe" stroke-width="1.0" />
<circle cx="222.50" cy="426.00" r="3.4" fill="none" stroke="#c4bbbe" stroke-width="1.0" />
<circle cx="224.22" cy="425.50" r="3.4" fill="none" stroke="#c4bbbe" stroke-width="1.0" />
<circle cx="225.94" cy="425.00" r="3.4" fill="none" stroke="#c4bbbe" stroke-width="1.0" />
<circle cx="227.67" cy="424.50" r="3.4" fill="none" stroke="#c4bbbe" stroke-width="1.0" />
<circle cx="229.39" cy="424.00" r="3.4" fill="none" stroke="#c4bbbe" stroke-width="1.0" />
<circle cx="231.11" cy="423.50" r="3.4" fill="none" stroke="#c4bbbe" stroke-width="1.0" />
<circle cx="232.83" cy="423.00" r="3.4" fill="none" stroke="#c4bbbe" stroke-width="1.0" />
<circle cx="234.56" cy="422.50" r="3.4" fill="none" stroke="#c4bbbe" stroke-width="1.0" />
<circle cx="236.28" cy="422.00" r="3.4" fill="none" stroke="#c4bbbe" stroke-width="1.0" />
<circle cx="238.00" cy="421.50" r="3.4" fill="none" stroke="#c4bbbe" stroke-width="1.0" />
<circle cx="208.50" cy="425.00" r="3.4" fill="none" stroke="#c4bbbe" stroke-width="1.0" />
<circle cx="210.25" cy="425.62" r="3.4" fill="none" stroke="#c4bbbe" stroke-width="1.0" />
<circle cx="212.00" cy="426.25" r="3.4" fill="none" stroke="#c4bbbe" stroke-width="1.0" />
<circle cx="213.75" cy="426.88" r="3.4" fill="none" stroke="#c4bbbe" stroke-width="1.0" />
<circle cx="215.50" cy="427.50" r="3.4" fill="none" stroke="#c4bbbe" stroke-width="1.0" />
<circle cx="217.25" cy="428.12" r="3.4" fill="none" stroke="#c4bbbe" stroke-width="1.0" />
<circle cx="219.00" cy="428.75" r="3.4" fill="none" stroke="#c4bbbe" stroke-width="1.0" />
<circle cx="220.75" cy="429.38" r="3.4" fill="none" stroke="#c4bbbe" stroke-width="1.0" />
<circle cx="222.50" cy="430.00" r="3.4" fill="none" stroke="#c4bbbe" stroke-width="1.0" />
<circle cx="224.25" cy="429.38" r="3.4" fill="none" stroke="#c4bbbe" stroke-width="1.0" />
<circle cx="226.00" cy="428.75" r="3.4" fill="none" stroke="#c4bbbe" stroke-width="1.0" />
<circle cx="227.75" cy="428.12" r="3.4" fill="none" stroke="#c4bbbe" stroke-width="1.0" />
<circle cx="229.50" cy="427.50" r="3.4" fill="none" stroke="#c4bbbe" stroke-width="1.0" />
<circle cx="231.25" cy="426.88" r="3.4" fill="none" stroke="#c4bbbe" stroke-width="1.0" />
<circle cx="233.00" cy="426.25" r="3.4" fill="none" stroke="#c4bbbe" stroke-width="1.0" />
<circle cx="234.75" cy="425.62" r="3.4" fill="none" stroke="#c4bbbe" stroke-width="1.0" />
<circle cx="236.50" cy="425.00" r="3.4" fill="none" stroke="#c4bbbe" stroke-width="1.0" />
<circle cx="211.50" cy="428.50" r="3.4" fill="none" stroke="#c4bbbe" stroke-width="1.0" />
<circle cx="213.33" cy="429.08" r="3.4" fill="none" stroke="#c4bbbe" stroke-width="1.0" />
<circle cx="215.17" cy="429.67" r="3.4" fill="none" stroke="#c4bbbe" stroke-width="1.0" />
<circle cx="217.00" cy="430.25" r="3.4" fill="none" stroke="#c4bbbe" stroke-width="1.0" />
<circle cx="218.83" cy="430.83" r="3.4" fill="none" stroke="#c4bbbe" stroke-width="1.0" />
<circle cx="220.67" cy="431.42" r="3.4" fill="none" stroke="#c4bbbe" stroke-width="1.0" />
<circle cx="222.50" cy="432.00" r="3.4" fill="none" stroke="#c4bbbe" stroke-width="1.0" />
<circle cx="224.33" cy="431.42" r="3.4" fill="none" stroke="#c4bbbe" stroke-width="1.0" />
<circle cx="226.17" cy="430.83" r="3.4" fill="none" stroke="#c4bbbe" stroke-width="1.0" />
<circle cx="228.00" cy="430.25" r="3.4" fill="none" stroke="#c4bbbe" stroke-width="1.0" />
<circle cx="229.83" cy="429.67" r="3.4" fill="none" stroke="#c4bbbe" stroke-width="1.0" />
<circle cx="231.67" cy="429.08" r="3.4" fill="none" stroke="#c4bbbe" stroke-width="1.0" />
<circle cx="233.50" cy="428.50" r="3.4" fill="none" stroke="#c4bbbe" stroke-width="1.0" />
<circle cx="207.00" cy="433.00" r="3.4" fill="none" stroke="#c4bbbe" stroke-width="1.0" />
<circle cx="208.94" cy="434.50" r="3.4" fill="none" stroke="#c4bbbe" stroke-width="1.0" />
<circle cx="210.88" cy="436.00" r="3.4" fill="none" stroke="#c4bbbe" stroke-width="1.0" />
<circle cx="212.81" cy="437.50" r="3.4" fill="none" stroke="#c4bbbe" stroke-width="1.0" />
<circle cx="214.75" cy="439.00" r="3.4" fill="none" stroke="#c4bbbe" stroke-width="1.0" />
<circle cx="216.69" cy="440.50" r="3.4" fill="none" stroke="#c4bbbe" stroke-width="1.0" />
<circle cx="218.62" cy="442.00" r="3.4" fill="none" stroke="#c4bbbe" stroke-width="1.0" />
<circle cx="220.56" cy="443.50" r="3.4" fill="none" stroke="#c4bbbe" stroke-width="1.0" />
<circle cx="222.50" cy="445.00" r="3.4" fill="none" stroke="#c4bbbe" stroke-width="1.0" />
<circle cx="224.44" cy="443.50" r="3.4" fill="none" stroke="#c4bbbe" stroke-width="1.0" />
<circle cx="226.38" cy="442.00" r="3.4" fill="none" stroke="#c4bbbe" stroke-width="1.0" />
<circle cx="228.31" cy="440.50" r="3.4" fill="none" stroke="#c4bbbe" stroke-width="1.0" />
<circle cx="230.25" cy="439.00" r="3.4" fill="none" stroke="#c4bbbe" stroke-width="1.0" />
<circle cx="232.19" cy="437.50" r="3.4" fill="none" stroke="#c4bbbe" stroke-width="1.0" />
<circle cx="234.12" cy="436.00" r="3.4" fill="none" stroke="#c4bbbe" stroke-width="1.0" />
<circle cx="236.06" cy="434.50" r="3.4" fill="none" stroke="#c4bbbe" stroke-width="1.0" />
<circle cx="238.00" cy="433.00" r="3.4" fill="none" stroke="#c4bbbe" stroke-width="1.0" />
<circle cx="210.00" cy="436.50" r="3.4" fill="none" stroke="#c4bbbe" stroke-width="1.0" />
<circle cx="212.08" cy="438.08" r="3.4" fill="none" stroke="#c4bbbe" stroke-width="1.0" />
<circle cx="214.17" cy="439.67" r="3.4" fill="none" stroke="#c4bbbe" stroke-width="1.0" />
<circle cx="216.25" cy="441.25" r="3.4" fill="none" stroke="#c4bbbe" stroke-width="1.0" />
<circle cx="218.33" cy="442.83" r="3.4" fill="none" stroke="#c4bbbe" stroke-width="1.0" />
<circle cx="220.42" cy="444.42" r="3.4" fill="none" stroke="#c4bbbe" stroke-width="1.0" />
<circle cx="222.50" cy="446.00" r="3.4" fill="none" stroke="#c4bbbe" stroke-width="1.0" />
<circle cx="224.58" cy="444.42" r="3.4" fill="none" stroke="#c4bbbe" stroke-width="1.0" />
<circle cx="226.67" cy="442.83" r="3.4" fill="none" stroke="#c4bbbe" stroke-width="1.0" />
<circle cx="228.75" cy="441.25" r="3.4" fill="none" stroke="#c4bbbe" stroke-width="1.0" />
<circle cx="230.83" cy="439.67" r="3.4" fill="none" stroke="#c4bbbe" stroke-width="1.0" />
<circle cx="232.92" cy="438.08" r="3.4" fill="none" stroke="#c4bbbe" stroke-width="1.0" />
<circle cx="235.00" cy="436.50" r="3.4" fill="none" stroke="#c4bbbe" stroke-width="1.0" />
<circle cx="208.00" cy="446.50" r="3.4" fill="none" stroke="#c4bbbe" stroke-width="1.0" />
<circle cx="210.07" cy="447.93" r="3.4" fill="none" stroke="#c4bbbe" stroke-width="1.0" />
<circle cx="212.14" cy="449.36" r="3.4" fill="none" stroke="#c4bbbe" stroke-width="1.0" />
<circle cx="214.21" cy="450.79" r="3.4" fill="none" stroke="#c4bbbe" stroke-width="1.0" />
<circle cx="216.29" cy="452.21" r="3.4" fill="none" stroke="#c4bbbe" stroke-width="1.0" />
<circle cx="218.36" cy="453.64" r="3.4" fill="none" stroke="#c4bbbe" stroke-width="1.0" />
<circle cx="220.43" cy="455.07" r="3.4" fill="none" stroke="#c4bbbe" stroke-width="1.0" />
<circle cx="222.50" cy="456.50" r="3.4" fill="none" stroke="#c4bbbe" stroke-width="1.0" />
<circle cx="224.57" cy="455.07" r="3.4" fill="none" stroke="#c4bbbe" stroke-width="1.0" />
<circle cx="226.64" cy="453.64" r="3.4" fill="none" stroke="#c4bbbe" stroke-width="1.0" />
<circle cx="228.71" cy="452.21" r="3.4" fill="none" stroke="#c4bbbe" stroke-width="1.0" />
<circle cx="230.79" cy="450.79" r="3.4" fill="none" stroke="#c4bbbe" stroke-width="1.0" />
<circle cx="232.86" cy="449.36" r="3.4" fill="none" stroke="#c4bbbe" stroke-width="1.0" />
<circle cx="234.93" cy="447.93" r="3.4" fill="none" stroke="#c4bbbe" stroke-width="1.0" />
<circle cx="237.00" cy="446.50" r="3.4" fill="none" stroke="#c4bbbe" stroke-width="1.0" />
<circle cx="208.00" cy="424.50" r="3.4" fill="none" stroke="#c4bbbe" stroke-width="1.0" />
<circle cx="209.45" cy="424.80" r="3.4" fill="none" stroke="#c4bbbe" stroke-width="1.0" />
<circle cx="210.90" cy="425.10" r="3.4" fill="none" stroke="#c4bbbe" stroke-width="1.0" />
<circle cx="212.35" cy="425.40" r="3.4" fill="none" stroke="#c4bbbe" stroke-width="1.0" />
<circle cx="213.80" cy="425.70" r="3.4" fill="none" stroke="#c4bbbe" stroke-width="1.0" />
<circle cx="215.25" cy="426.00" r="3.4" fill="none" stroke="#c4bbbe" stroke-width="1.0" />
<circle cx="216.70" cy="426.30" r="3.4" fill="none" stroke="#c4bbbe" stroke-width="1.0" />
<circle cx="218.15" cy="426.60" r="3.4" fill="none" stroke="#c4bbbe" stroke-width="1.0" />
<circle cx="219.60" cy="426.90" r="3.4" fill="none" stroke="#c4bbbe" stroke-width="1.0" />
<circle cx="221.05" cy="427.20" r="3.4" fill="none" stroke="#c4bbbe" stroke-width="1.0" />
<circle cx="222.50" cy="427.50" r="3.4" fill="none" stroke="#c4bbbe" stroke-width="1.0" />
<circle cx="223.95" cy="427.20" r="3.4" fill="none" stroke="#c4bbbe" stroke-width="1.0" />
<circle cx="225.40" cy="426.90" r="3.4" fill="none" stroke="#c4bbbe" stroke-width="1.0" />
<circle cx="226.85" cy="426.60" r="3.4" fill="none" stroke="#c4bbbe" stroke-width="1.0" />
<circle cx="228.30" cy="426.30" r="3.4" fill="none" stroke="#c4bbbe" stroke-width="1.0" />
<circle cx="229.75" cy="426.00" r="3.4" fill="none" stroke="#c4bbbe" stroke-width="1.0" />
<circle cx="231.20" cy="425.70" r="3.4" fill="none" stroke="#c4bbbe" stroke-width="1.0" />
<circle cx="232.65" cy="425.40" r="3.4" fill="none" stroke="#c4bbbe" stroke-width="1.0" />
<circle cx="234.10" cy="425.10" r="3.4" fill="none" stroke="#c4bbbe" stroke-width="1.0" />
<circle cx="235.55" cy="424.80" r="3.4" fill="none" stroke="#c4bbbe" stroke-width="1.0" />
<circle cx="237.00" cy="424.50" r="3.4" fill="none" stroke="#c4bbbe" stroke-width="1.0" />
<circle cx="208.50" cy="437.50" r="3.4" fill="none" stroke="#c4bbbe" stroke-width="1.0" />
<circle cx="209.90" cy="437.90" r="3.4" fill="none" stroke="#c4bbbe" stroke-width="1.0" />
<circle cx="211.30" cy="438.30" r="3.4" fill="none" stroke="#c4bbbe" stroke-width="1.0" />
<circle cx="212.70" cy="438.70" r="3.4" fill="none" stroke="#c4bbbe" stroke-width="1.0" />
<circle cx="214.10" cy="439.10" r="3.4" fill="none" stroke="#c4bbbe" stroke-width="1.0" />
<circle cx="215.50" cy="439.50" r="3.4" fill="none" stroke="#c4bbbe" stroke-width="1.0" />
<circle cx="216.90" cy="439.90" r="3.4" fill="none" stroke="#c4bbbe" stroke-width="1.0" />
<circle cx="218.30" cy="440.30" r="3.4" fill="none" stroke="#c4bbbe" stroke-width="1.0" />
<circle cx="219.70" cy="440.70" r="3.4" fill="none" stroke="#c4bbbe" stroke-width="1.0" />
<circle cx="221.10" cy="441.10" r="3.4" fill="none" stroke="#c4bbbe" stroke-width="1.0" />
<circle cx="222.50" cy="441.50" r="3.4" fill="none" stroke="#c4bbbe" stroke-width="1.0" />
<circle cx="223.90" cy="441.10" r="3.4" fill="none" stroke="#c4bbbe" stroke-width="1.0" />
<circle cx="225.30" cy="440.70" r="3.4" fill="none" stroke="#c4bbbe" stroke-width="1.0" />
<circle cx="226.70" cy="440.30" r="3.4" fill="none" stroke="#c4bbbe" stroke-width="1.0" />
<circle cx="228.10" cy="439.90" r="3.4" fill="none" stroke="#c4bbbe" stroke-width="1.0" />
<circle cx="229.50" cy="439.50" r="3.4" fill="none" stroke="#c4bbbe" stroke-width="1.0" />
<circle cx="230.90" cy="439.10" r="3.4" fill="none" stroke="#c4bbbe" stroke-width="1.0" />
<circle cx="232.30" cy="438.70" r="3.4" fill="none" stroke="#c4bbbe" stroke-width="1.0" />
<circle cx="233.70" cy="438.30" r="3.4" fill="none" stroke="#c4bbbe" stroke-width="1.0" />
<circle cx="235.10" cy="437.90" r="3.4" fill="none" stroke="#c4bbbe" stroke-width="1.0" />
<circle cx="236.50" cy="437.50" r="3.4" fill="none" stroke="#c4bbbe" stroke-width="1.0" />
<circle cx="208.00" cy="431.00" r="3.4" fill="none" stroke="#c4bbbe" stroke-width="1.0" />
<circle cx="209.81" cy="431.62" r="3.4" fill="none" stroke="#c4bbbe" stroke-width="1.0" />
<circle cx="211.62" cy="432.25" r="3.4" fill="none" stroke="#c4bbbe" stroke-width="1.0" />
<circle cx="213.44" cy="432.88" r="3.4" fill="none" stroke="#c4bbbe" stroke-width="1.0" />
<circle cx="215.25" cy="433.50" r="3.4" fill="none" stroke="#c4bbbe" stroke-width="1.0" />
<circle cx="217.06" cy="434.12" r="3.4" fill="none" stroke="#c4bbbe" stroke-width="1.0" />
<circle cx="218.88" cy="434.75" r="3.4" fill="none" stroke="#c4bbbe" stroke-width="1.0" />
<circle cx="220.69" cy="435.38" r="3.4" fill="none" stroke="#c4bbbe" stroke-width="1.0" />
<circle cx="222.50" cy="436.00" r="3.4" fill="none" stroke="#c4bbbe" stroke-width="1.0" />
<circle cx="224.31" cy="435.38" r="3.4" fill="none" stroke="#c4bbbe" stroke-width="1.0" />
<circle cx="226.12" cy="434.75" r="3.4" fill="none" stroke="#c4bbbe" stroke-width="1.0" />
<circle cx="227.94" cy="434.12" r="3.4" fill="none" stroke="#c4bbbe" stroke-width="1.0" />
<circle cx="229.75" cy="433.50" r="3.4" fill="none" stroke="#c4bbbe" stroke-width="1.0" />
<circle cx="231.56" cy="432.88" r="3.4" fill="none" stroke="#c4bbbe" stroke-width="1.0" />
<circle cx="233.38" cy="432.25" r="3.4" fill="none" stroke="#c4bbbe" stroke-width="1.0" />
<circle cx="235.19" cy="431.62" r="3.4" fill="none" stroke="#c4bbbe" stroke-width="1.0" />
<circle cx="237.00" cy="431.00" r="3.4" fill="none" stroke="#c4bbbe" stroke-width="1.0" />
<line x1="203.60" y1="424.10" x2="241.70" y2="424.10" stroke="#111" stroke-width="1.6" />
<line x1="222.20" y1="401.60" x2="222.20" y2="446.80" stroke="#222" stroke-width="1.3" />
<line x1="213.10" y1="401.60" x2="231.60" y2="401.60" stroke="#222" stroke-width="1.3" />
<line x1="213.10" y1="446.80" x2="231.60" y2="446.80" stroke="#222" stroke-width="1.3" />
<circle cx="343.80" cy="198.70" r="3.1" fill="#aa2a3e" stroke="#9a1c30" stroke-width="0.5" />
<circle cx="332.30" cy="216.40" r="3.1" fill="#aa2a3e" stroke="#9a1c30" stroke-width="0.5" />
<circle cx="338.75" cy="218.10" r="3.1" fill="#aa2a3e" stroke="#9a1c30" stroke-width="0.5" />
<circle cx="342.60" cy="221.70" r="3.1" fill="#aa2a3e" stroke="#9a1c30" stroke-width="0.5" />
<circle cx="338.75" cy="210.70" r="3.4" fill="none" stroke="#c4bcbc" stroke-width="0.95" />
<circle cx="349.30" cy="209.70" r="3.4" fill="none" stroke="#c4bcbc" stroke-width="0.95" />
<circle cx="358.50" cy="211.60" r="3.4" fill="none" stroke="#c4bcbc" stroke-width="0.95" />
<circle cx="328.70" cy="214.50" r="3.4" fill="none" stroke="#c4bcbc" stroke-width="0.95" />
<circle cx="344.00" cy="213.00" r="3.4" fill="none" stroke="#c4bcbc" stroke-width="0.95" />
<circle cx="347.00" cy="217.00" r="3.4" fill="none" stroke="#c4bcbc" stroke-width="0.95" />
<circle cx="351.70" cy="216.40" r="3.4" fill="none" stroke="#c4bcbc" stroke-width="0.95" />
<circle cx="355.60" cy="216.00" r="3.4" fill="none" stroke="#c4bcbc" stroke-width="0.95" />
<circle cx="334.00" cy="213.50" r="3.4" fill="none" stroke="#c4bcbc" stroke-width="0.95" />
<circle cx="360.00" cy="216.00" r="3.4" fill="none" stroke="#c4bcbc" stroke-width="0.95" />
<circle cx="343.50" cy="219.50" r="3.4" fill="none" stroke="#c4bcbc" stroke-width="0.95" />
<line x1="325.00" y1="214.80" x2="362.80" y2="214.80" stroke="#111" stroke-width="1.6" />
<circle cx="410.20" cy="137.70" r="3.6" fill="none" stroke="#c4bcbc" stroke-width="0.95" />
<circle cx="399.00" cy="151.00" r="3.6" fill="none" stroke="#c4bcbc" stroke-width="0.95" />
<circle cx="404.70" cy="161.80" r="3.6" fill="none" stroke="#c4bcbc" stroke-width="0.95" />
<circle cx="420.00" cy="168.80" r="3.6" fill="none" stroke="#c4bcbc" stroke-width="0.95" />
<circle cx="414.90" cy="170.00" r="3.6" fill="none" stroke="#c4bcbc" stroke-width="0.95" />
<circle cx="416.80" cy="173.20" r="3.6" fill="none" stroke="#c4bcbc" stroke-width="0.95" />
<circle cx="410.20" cy="188.10" r="3.6" fill="none" stroke="#c4bcbc" stroke-width="0.95" />
<circle cx="410.20" cy="161.80" r="3.1" fill="#aa2a3e" stroke="#9a1c30" stroke-width="0.5" />
<circle cx="420.90" cy="160.90" r="3.1" fill="#aa2a3e" stroke="#9a1c30" stroke-width="0.5" />
<circle cx="400.30" cy="168.40" r="3.1" fill="#aa2a3e" stroke="#9a1c30" stroke-width="0.5" />
<circle cx="407.00" cy="169.40" r="3.1" fill="#aa2a3e" stroke="#9a1c30" stroke-width="0.5" />
<line x1="391.40" y1="164.30" x2="428.90" y2="164.30" stroke="#111" stroke-width="1.6" />
<line x1="410.20" y1="151.90" x2="410.20" y2="177.00" stroke="#222" stroke-width="1.3" />
<line x1="401.30" y1="151.90" x2="419.60" y2="151.90" stroke="#222" stroke-width="1.3" />
<line x1="401.30" y1="177.00" x2="419.60" y2="177.00" stroke="#222" stroke-width="1.3" />
<circle cx="476.60" cy="83.50" r="3.6" fill="none" stroke="#c4bcbc" stroke-width="0.95" />
<circle cx="462.80" cy="99.10" r="3.6" fill="none" stroke="#c4bcbc" stroke-width="0.95" />
<circle cx="469.80" cy="100.50" r="3.6" fill="none" stroke="#c4bcbc" stroke-width="0.95" />
<circle cx="476.60" cy="101.80" r="3.6" fill="none" stroke="#c4bcbc" stroke-width="0.95" />
<circle cx="483.30" cy="99.80" r="3.6" fill="none" stroke="#c4bcbc" stroke-width="0.95" />
<circle cx="490.40" cy="96.80" r="3.6" fill="none" stroke="#c4bcbc" stroke-width="0.95" />
<circle cx="490.80" cy="103.20" r="3.6" fill="none" stroke="#c4bcbc" stroke-width="0.95" />
<circle cx="462.30" cy="106.80" r="3.6" fill="none" stroke="#c4bcbc" stroke-width="0.95" />
<circle cx="481.30" cy="107.90" r="3.6" fill="none" stroke="#c4bcbc" stroke-width="0.95" />
<circle cx="471.40" cy="113.60" r="3.6" fill="none" stroke="#c4bcbc" stroke-width="0.95" />
<circle cx="481.70" cy="124.90" r="3.6" fill="none" stroke="#c4bcbc" stroke-width="0.95" />
<circle cx="462.80" cy="133.00" r="3.6" fill="none" stroke="#c4bcbc" stroke-width="0.95" />
<circle cx="469.80" cy="137.00" r="3.6" fill="none" stroke="#c4bcbc" stroke-width="0.95" />
<circle cx="476.60" cy="141.80" r="3.6" fill="none" stroke="#c4bcbc" stroke-width="0.95" />
<circle cx="483.30" cy="141.10" r="3.6" fill="none" stroke="#c4bcbc" stroke-width="0.95" />
<circle cx="490.10" cy="134.70" r="3.6" fill="none" stroke="#c4bcbc" stroke-width="0.95" />
<line x1="457.60" y1="114.00" x2="495.50" y2="114.00" stroke="#111" stroke-width="1.6" />
<line x1="476.60" y1="96.10" x2="476.60" y2="131.60" stroke="#222" stroke-width="1.3" />
<line x1="467.10" y1="96.10" x2="486.00" y2="96.10" stroke="#222" stroke-width="1.3" />
<line x1="467.10" y1="131.60" x2="486.00" y2="131.60" stroke="#222" stroke-width="1.3" />
<line x1="331" y1="522.6" x2="493.6" y2="406.8" stroke="#222" stroke-width="1.1" stroke-dasharray="3.2 2.2"/>
<circle cx="493.70" cy="391.20" r="2.75" fill="#fff" stroke="#151515" stroke-width="0.95" />
<circle cx="496.30" cy="407.10" r="2.75" fill="#fff" stroke="#151515" stroke-width="0.95" />
<circle cx="477.60" cy="405.00" r="2.75" fill="#fff" stroke="#151515" stroke-width="0.95" />
<circle cx="474.00" cy="411.10" r="2.75" fill="#fff" stroke="#151515" stroke-width="0.95" />
<circle cx="467.10" cy="415.50" r="2.75" fill="#fff" stroke="#151515" stroke-width="0.95" />
<circle cx="455.60" cy="407.10" r="2.75" fill="#fff" stroke="#151515" stroke-width="0.95" />
<circle cx="455.90" cy="407.60" r="2.75" fill="#fff" stroke="#151515" stroke-width="0.95" />
<circle cx="432.20" cy="409.00" r="2.75" fill="#fff" stroke="#151515" stroke-width="0.95" />
<circle cx="450.80" cy="413.80" r="2.75" fill="#fff" stroke="#151515" stroke-width="0.95" />
<circle cx="452.50" cy="421.90" r="2.75" fill="#fff" stroke="#151515" stroke-width="0.95" />
<circle cx="457.50" cy="420.80" r="2.75" fill="#fff" stroke="#151515" stroke-width="0.95" />
<circle cx="444.00" cy="432.30" r="2.75" fill="#fff" stroke="#151515" stroke-width="0.95" />
<circle cx="445.50" cy="441.30" r="2.75" fill="#fff" stroke="#151515" stroke-width="0.95" />
<circle cx="441.90" cy="444.50" r="2.75" fill="#fff" stroke="#151515" stroke-width="0.95" />
<circle cx="446.10" cy="448.80" r="2.75" fill="#fff" stroke="#151515" stroke-width="0.95" />
<circle cx="446.30" cy="449.20" r="2.75" fill="#fff" stroke="#151515" stroke-width="0.95" />
<circle cx="459.90" cy="446.00" r="2.75" fill="#fff" stroke="#151515" stroke-width="0.95" />
<circle cx="493.30" cy="442.80" r="2.75" fill="#fff" stroke="#151515" stroke-width="0.95" />
<circle cx="444.00" cy="459.80" r="2.75" fill="#fff" stroke="#151515" stroke-width="0.95" />
<circle cx="441.70" cy="477.30" r="2.75" fill="#fff" stroke="#151515" stroke-width="0.95" />
<circle cx="420.00" cy="471.30" r="2.75" fill="#fff" stroke="#151515" stroke-width="0.95" />
<circle cx="425.80" cy="472.50" r="2.75" fill="#fff" stroke="#151515" stroke-width="0.95" />
<circle cx="410.90" cy="481.70" r="2.75" fill="#fff" stroke="#151515" stroke-width="0.95" />
<circle cx="409.80" cy="496.40" r="2.75" fill="#fff" stroke="#151515" stroke-width="0.95" />
<circle cx="331.20" cy="518.00" r="2.75" fill="#fff" stroke="#151515" stroke-width="0.95" />
<circle cx="331.70" cy="520.50" r="2.75" fill="#fff" stroke="#151515" stroke-width="0.95" />
<circle cx="329.20" cy="526.10" r="2.75" fill="#fff" stroke="#151515" stroke-width="0.95" />
<circle cx="398.20" cy="469.40" r="2.75" fill="#a92e44" stroke="#1a1a1a" stroke-width="0.95" />
<circle cx="400.40" cy="477.70" r="2.75" fill="#a92e44" stroke="#1a1a1a" stroke-width="0.95" />
<circle cx="415.80" cy="469.80" r="2.75" fill="#a92e44" stroke="#1a1a1a" stroke-width="0.95" />
<circle cx="429.60" cy="476.50" r="2.75" fill="#a92e44" stroke="#1a1a1a" stroke-width="0.95" />
<circle cx="329.70" cy="507.20" r="2.75" fill="#a92e44" stroke="#1a1a1a" stroke-width="0.95" />
<circle cx="329.70" cy="524.60" r="2.75" fill="#a92e44" stroke="#1a1a1a" stroke-width="0.95" />
<circle cx="332.70" cy="526.80" r="2.75" fill="#a92e44" stroke="#1a1a1a" stroke-width="0.95" />
<circle cx="335.80" cy="529.20" r="2.75" fill="#a92e44" stroke="#1a1a1a" stroke-width="0.95" />
<rect x="0" y="0" width="2" height="591" fill="#7e7e79"/>
<rect x="0" y="0" width="520" height="1.3" fill="#1c1c16"/>
<rect x="518.8" y="0" width="1.2" height="591" fill="#1c1c16"/>
<rect x="0" y="589.6" width="520" height="1.4" fill="#1c1c16"/>
</svg>
</body></html>
